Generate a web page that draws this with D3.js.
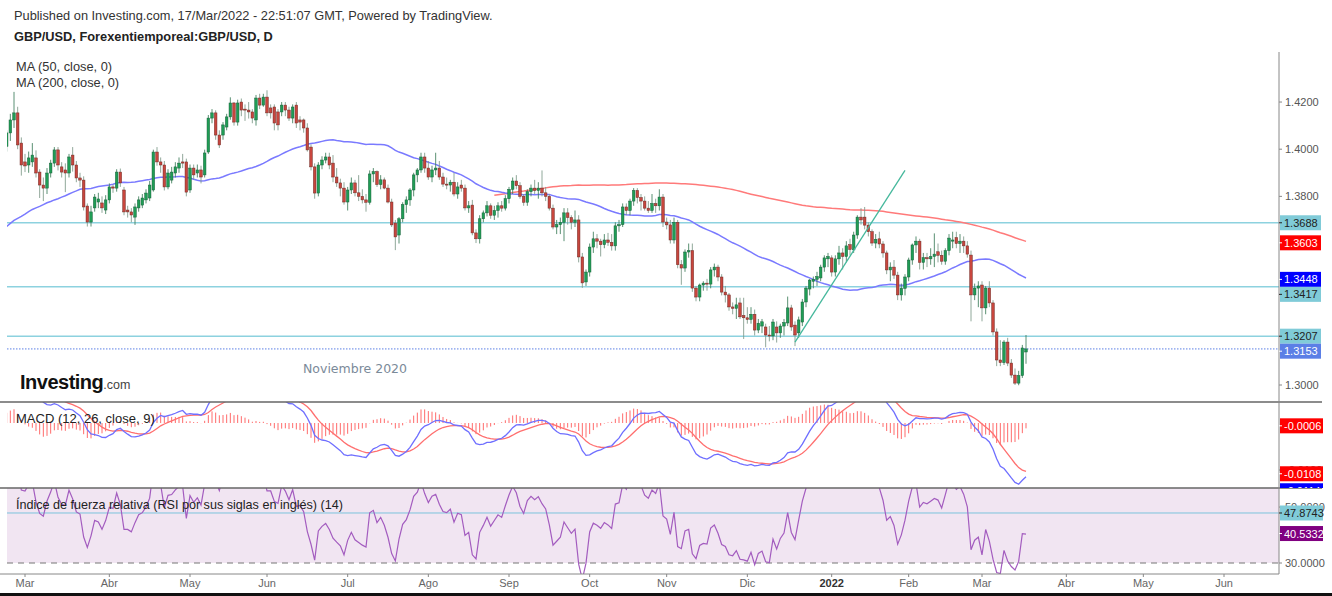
<!DOCTYPE html>
<html><head><meta charset="utf-8">
<script src="https://cdn.jsdelivr.net/npm/d3@7"></script>
<style>
body{margin:0;background:#fff}
svg{display:block}
text{font-family:Arial,"Liberation Sans",sans-serif}
</style></head>
<body><svg id="c" width="1332" height="596"></svg>
<script>
// ---------------- DATA (prices x 10 000) ----------------
const startDate = "2020-11-20"; // first daily bar (weekdays only)
// closes used only to warm up the indicators (20 Nov 2020 - 19 Feb 2021)
const warmupCloses = [
13282,
13317,13353,13363,13355,13318, 13345,13393,13363,13459,13437, 13381,13363,13339,13292,13224,
13318,13446,13526,13585,13523, 13453,13437,13500,13553,13553, 13451,13505,13668,13670,13670,
13570,13610,13605,13573,13565, 13515,13675,13660,13676,13590, 13590,13640,13662,13735,13685,
13674,13737,13697,13740,13703, 13675,13645,13664,13670,13735, 13765,13825,13827,13826,13845,
13900,13890,13872,13936,14012];
// visible candles 22 Feb 2021 - 17 Mar 2022
const opens = [
14012,14069,14124,14154,14026,
13946,13933,13946,13963,13903,13848,13835,13899,13941,13997,13925,13912,13899,13975,13933,13878,13869,13759,13691,13751,13776,13772,13742,
13785,13840,13835,13903,13827,13742,13734,13712,13751,13763,13785,13793,13827,13988,13946,13933,13840,13869,13899,13920,13946,13946,
13827,13920,13899,13912,13891,13988,14132,14154,14060,14060,14094,14137,14196,14115,14200,14170,14166,14158,14124,14217,14187,
14221,14175,14179,14158,14158,14187,14166,14132,14187,14124,14124,14090,14009,13925,13814,13933,13954,13967,13941,13882,13857,13835,
13776,13827,13857,13815,13800,13785,13775,13895,13905,13850,13870,13835,13776,13687,13636,13705,13765,13785,13827,13891,13912,13967,
13920,13882,13912,13920,13882,13852,13848,13860,13810,13848,13835,13751,13763,13645,13620,13705,13730,13760,13720,13740,13760,13750,
13790,13830,13865,13845,13800,13775,13820,13835,13825,13835,13815,13800,13750,13670,13680,13690,13730,13710,13690,13700,13543,13437,
13479,13585,13620,13610,13595,13615,13605,13590,13675,13680,13755,13740,13780,13825,13795,13780,13750,13740,13770,13760,13797,
13691,13679,13615,13690,13510,13496,13564,13570,13411,13373,13424,13432,13428,13488,13500,13458,13394,13382,13331,13325,13348,13295,
13285,13278,13300,13233,13250,13246,13212,13208,13246,13221,13250,13263,13327,13254,13221,13267,13352,13407,13440,13448,13454,13500,13535,
13539,13479,13535,13560,13545,13595,13573,13636,13712,13712,13678,13650,13602,13620,13598,13560,13488,13500,13466,13382,13410,
13458,13530,13594,13610,13520,13540,13535,13545,13565,13550,13525,13570,13610,13625,13600,13610,13590,13551,13382,13411,
13424,13327,13411,13348,13225,13106,13095,13182,13093,13042,13008,13040,13140];
const highs = [
14080,14150,14243,14180,14050,
13980,13990,14026,13995,13915,13880,13920,13955,14009,14009,13945,13940,13980,14009,13950,13900,13885,13770,13760,13810,13815,13800,13805,
13855,13850,13915,13918,13840,13760,13750,13770,13800,13810,13830,13865,13998,14009,13965,13950,13915,13925,13945,13965,13980,13960,
13935,13935,13935,13930,13998,14145,14170,14165,14080,14115,14150,14220,14200,14210,14215,14190,14200,14170,14230,14235,14235,
14250,14190,14190,14170,14200,14200,14180,14190,14200,14140,14130,14110,14020,13940,13945,13970,13985,13985,13975,13920,13875,13860,
13840,13880,13870,13890,13830,13810,13910,13920,13910,13890,13880,13850,13790,13700,13712,13775,13800,13835,13900,13920,13985,13985,
13950,13930,13985,13950,13900,13880,13870,13900,13860,13870,13850,13780,13785,13660,13720,13740,13780,13770,13760,13775,13780,13805,
13840,13880,13890,13860,13810,13830,13850,13870,13860,13910,13840,13810,13765,13700,13710,13750,13750,13720,13740,13720,13560,13490,
13600,13650,13640,13620,13640,13645,13640,13690,13700,13770,13770,13790,13835,13835,13810,13800,13780,13810,13790,13830,13810,
13710,13700,13710,13700,13530,13575,13600,13600,13420,13430,13440,13450,13500,13515,13510,13470,13420,13390,13350,13370,13370,13370,
13330,13330,13320,13280,13280,13260,13250,13280,13270,13260,13280,13375,13340,13270,13290,13365,13420,13450,13460,13480,13510,13550,13560,
13550,13550,13590,13580,13610,13620,13650,13720,13750,13755,13690,13660,13640,13650,13610,13570,13520,13530,13480,13430,13470,
13540,13600,13630,13620,13560,13560,13580,13643,13600,13570,13580,13640,13650,13650,13640,13630,13610,13570,13430,13440,
13440,13420,13440,13360,13240,13190,13190,13200,13110,13070,13060,13170,13212];
const lows = [
13990,14035,14090,14000,13888,
13903,13900,13925,13880,13793,13780,13810,13880,13925,13910,13880,13818,13880,13905,13860,13840,13740,13672,13672,13735,13750,13730,13725,
13770,13815,13820,13840,13720,13710,13690,13679,13735,13750,13770,13780,13820,13930,13900,13825,13830,13855,13880,13900,13920,13800,
13815,13870,13880,13855,13880,13980,14110,14040,14005,14040,14080,14125,14100,14100,14140,14120,14130,14110,14100,14170,14180,
14140,14130,14080,14080,14140,14140,14120,14110,14090,14080,14070,13990,13910,13790,13800,13915,13940,13915,13860,13840,13800,13765,
13740,13810,13800,13780,13770,13735,13765,13860,13840,13830,13830,13770,13670,13572,13600,13690,13730,13760,13800,13860,13900,13900,
13870,13860,13890,13870,13840,13830,13820,13800,13790,13820,13740,13730,13635,13602,13600,13690,13715,13705,13700,13710,13735,13740,
13770,13810,13830,13790,13760,13760,13800,13810,13790,13800,13780,13740,13660,13640,13640,13610,13680,13660,13670,13520,13412,13420,
13460,13560,13580,13545,13580,13590,13570,13570,13650,13670,13720,13720,13760,13770,13740,13740,13730,13730,13730,13740,13670,
13660,13600,13600,13495,13425,13480,13540,13395,13355,13355,13400,13400,13410,13460,13440,13380,13350,13315,13300,13280,13280,13195,
13260,13260,13210,13220,13220,13160,13185,13190,13180,13200,13210,13250,13230,13165,13200,13250,13330,13380,13410,13420,13440,13480,13500,
13460,13460,13510,13490,13520,13550,13560,13620,13680,13660,13630,13590,13580,13580,13540,13470,13440,13450,13360,13358,13380,
13440,13510,13560,13490,13490,13500,13510,13500,13520,13510,13510,13550,13580,13580,13560,13560,13540,13270,13360,13330,
13270,13300,13330,13210,13080,13080,13085,13080,13030,13000,12999,13030,13090];
const closes = [
14069,14124,14154,14018,13933,
13929,13963,13975,13899,13848,13835,13899,13941,13997,13933,13903,13899,13967,13933,13878,13869,13755,13691,13734,13797,13789,13751,13785,
13840,13835,13903,13857,13734,13734,13721,13755,13785,13793,13814,13848,13988,13946,13933,13840,13899,13903,13925,13941,13941,13818,
13920,13891,13912,13882,13984,14132,14154,14060,14018,14103,14137,14196,14115,14196,14166,14166,14158,14132,14217,14187,14221,
14154,14154,14111,14103,14187,14166,14132,14179,14111,14115,14090,13997,13925,13814,13933,13954,13967,13933,13882,13857,13835,13776,
13827,13857,13815,13800,13785,13775,13895,13905,13850,13870,13835,13776,13679,13628,13705,13765,13785,13827,13891,13912,13967,13920,
13882,13912,13920,13882,13852,13848,13860,13810,13840,13835,13751,13760,13645,13620,13705,13730,13760,13720,13740,13760,13750,13790,
13830,13865,13845,13800,13775,13820,13835,13825,13835,13815,13800,13750,13670,13680,13690,13730,13710,13690,13700,13543,13433,13479,
13585,13620,13610,13595,13615,13605,13590,13675,13680,13755,13740,13780,13825,13795,13780,13750,13740,13770,13760,13797,13691,
13679,13615,13690,13510,13496,13564,13570,13411,13373,13424,13432,13428,13488,13500,13458,13394,13382,13331,13325,13340,13289,13285,
13278,13300,13233,13262,13268,13212,13208,13267,13221,13250,13265,13327,13246,13212,13276,13352,13411,13445,13448,13460,13500,13539,13545,
13479,13535,13560,13545,13590,13575,13636,13712,13700,13678,13650,13602,13618,13598,13560,13488,13500,13466,13382,13410,13458,
13530,13594,13610,13520,13540,13535,13545,13555,13550,13525,13570,13623,13615,13600,13610,13590,13555,13382,13411,13420,
13327,13411,13348,13225,13106,13095,13182,13093,13042,13008,13040,13157,13153];

const monthNames = ["Ene","Feb","Mar","Abr","May","Jun","Jul","Ago","Sep","Oct","Nov","Dic"];
const priceTicks = [1.30, 1.32, 1.34, 1.36, 1.38, 1.40, 1.42];
const macdTicks = [-0.01];
const rsiTicks = [30, 50];
const hLevels = [1.3688, 1.3417, 1.3207];     // drawn horizontal lines
const lastPrice = 1.3153;
const ma50Label = 1.3448, ma200Label = 1.3603;
const macdLabels = {hist:-0.0006, signal:-0.0108, macd:-0.0114};
const rsiLevel = 47.8743, rsiLast = 40.5332;
const trendDates = ["2021-12-20","2022-01-31"], trendPrices = [1.3182, 1.3910];

// ---------------- SETUP ----------------
const svg = d3.select("#c");
const P = v => v / 10000;
const plotL = 7, plotR = 1279;
const mainTop = 52, mainBot = 402, macdBot = 488, rsiBot = 574;

const parse = d3.utcParse("%Y-%m-%d");
const nAll = warmupCloses.length + closes.length;
const dates = [];
for (let d = parse(startDate); dates.length < nAll + 80; d = d3.utcDay.offset(d, 1)) {
  const wd = d.getUTCDay(); if (wd !== 0 && wd !== 6) dates.push(d);
}
const idxOf = s => { const t = +parse(s); return dates.findIndex(d => +d === t); };
const x = d3.scaleLinear().domain([idxOf("2021-03-01"), idxOf("2022-06-01")]).range([25, 1224]);
const y = d3.scaleLinear().domain([1.30, 1.42]).range([385, 102.04]);
const yM = d3.scaleLinear().domain([0, -0.01]).range([423, 470]);
const yR = d3.scaleLinear().domain([30, 50]).range([563, 507.05]);

const allC = warmupCloses.concat(closes).map(P);
const w0 = warmupCloses.length;
const bars = closes.map((c, k) => ({i: w0 + k, o: P(opens[k]), h: P(highs[k]), l: P(lows[k]), c: P(c)}));

// indicators
function sma(a, n){ return a.map((v,i)=> i<n-1 ? null : d3.mean(a.slice(i-n+1,i+1))); }
function ema(a, n){ const out=a.map(()=>null); const k=2/(n+1); let first=a.findIndex(v=>v!=null); if(first<0) return out;
  let s=first+n-1; if(s>=a.length) return out; let e=d3.mean(a.slice(first,s+1)); out[s]=e;
  for(let i=s+1;i<a.length;i++){ e=a[i]*k+e*(1-k); out[i]=e; } return out; }
function rsi(a, n){ const out=a.map(()=>null); let au=0, ad=0;
  for(let i=1;i<a.length;i++){ const ch=a[i]-a[i-1], u=Math.max(ch,0), dd=Math.max(-ch,0);
    if(i<=n){ au+=u/n; ad+=dd/n; if(i===n) out[i]=100-100/(1+au/(ad||1e-9)); }
    else { au=(au*(n-1)+u)/n; ad=(ad*(n-1)+dd)/n; out[i]=100-100/(1+au/(ad||1e-9)); } }
  return out; }
const ma50 = sma(allC, 50), ma200 = sma(allC, 200);
const e12 = ema(allC, 12), e26 = ema(allC, 26);
const macd = allC.map((v,i)=> e12[i]!=null && e26[i]!=null ? e12[i]-e26[i] : null);
const sig = ema(macd, 9);
const hist = macd.map((v,i)=> v!=null && sig[i]!=null ? v-sig[i] : null);
const rsiV = rsi(allC, 14);

// clips
const defs = svg.append("defs");
[["cMain",mainTop,mainBot],["cMacd",mainBot,macdBot],["cRsi",macdBot,rsiBot]].forEach(([id,t,b])=>{
  defs.append("clipPath").attr("id",id).append("rect").attr("x",plotL).attr("y",t).attr("width",plotR-plotL).attr("height",b-t);
});
defs.append("clipPath").attr("id","cMacdAx").append("rect").attr("x",plotR).attr("y",mainBot).attr("width",60).attr("height",macdBot-mainBot);

// ---------------- HEADER ----------------
svg.append("text").attr("x",14).attr("y",20).attr("font-size",12.8).attr("fill","#333")
  .text("Published on Investing.com, 17/Mar/2022 - 22:51:07 GMT, Powered by TradingView.");
svg.append("text").attr("x",14).attr("y",41).attr("font-size",12.8).attr("font-weight","bold").attr("fill","#222")
  .text("GBP/USD, Forexentiemporeal:GBP/USD, D");

// ---------------- MAIN PANEL ----------------
const gM = svg.append("g").attr("clip-path","url(#cMain)");
const line = (yy, arr) => d3.line().defined((d,i)=>arr[i]!=null).x((d,i)=>x(i)).y((d,i)=>yy(arr[i]))(arr);

gM.selectAll("line.h").data(hLevels).join("line").attr("class","h")
  .attr("x1",plotL).attr("x2",plotR).attr("y1",d=>y(d)).attr("y2",d=>y(d))
  .attr("stroke","#8dd2df").attr("stroke-width",1.5);
gM.append("line").attr("x1",plotL).attr("x2",plotR).attr("y1",y(lastPrice)).attr("y2",y(lastPrice))
  .attr("stroke","#5b7fe6").attr("stroke-width",1).attr("stroke-dasharray","1.5,1.5");

gM.append("path").attr("d",line(y,ma200)).attr("fill","none").attr("stroke","#ff7a7a").attr("stroke-width",1.5);
gM.append("path").attr("d",line(y,ma50)).attr("fill","none").attr("stroke","#7a7aff").attr("stroke-width",1.5);

const cg = gM.selectAll("g.k").data(bars).join("g").attr("class","k");
cg.append("line").attr("x1",d=>x(d.i)).attr("x2",d=>x(d.i)).attr("y1",d=>y(d.h)).attr("y2",d=>y(d.l))
  .attr("stroke",d=>d.c>=d.o?"#3f7f5c":"#7f9a8a").attr("stroke-width",1).attr("opacity",0.85);
cg.append("rect").attr("x",d=>x(d.i)-1.3).attr("width",2.6)
  .attr("y",d=>y(Math.max(d.o,d.c))).attr("height",d=>Math.max(1,Math.abs(y(d.o)-y(d.c))))
  .attr("fill",d=>d.c>=d.o?"#1f9d55":"#c8463d").attr("stroke",d=>d.c>=d.o?"#17603a":"#6e2a25").attr("stroke-width",0.5);

gM.append("line").attr("x1",x(idxOf(trendDates[0]))).attr("y1",y(trendPrices[0]))
  .attr("x2",x(idxOf(trendDates[1]))).attr("y2",y(trendPrices[1])).attr("stroke","#45b89c").attr("stroke-width",1.3);

svg.append("text").attr("x",16).attr("y",71).attr("font-size",12.8).attr("fill","#333").text("MA (50, close, 0)");
svg.append("text").attr("x",16).attr("y",87).attr("font-size",12.8).attr("fill","#333").text("MA (200, close, 0)");

const logo = svg.append("text").attr("x",20).attr("y",389);
logo.append("tspan").attr("font-size",20).attr("font-weight","bold").attr("fill","#111").attr("letter-spacing",-0.5).text("Investing");
logo.append("tspan").attr("font-size",12.5).attr("fill","#444").text(".com");
svg.append("text").attr("x",303).attr("y",373).attr("font-size",12.5).attr("fill","#7b8a99")
  .style("font-family","Verdana,'DejaVu Sans',sans-serif").text("Noviembre 2020");

// ---------------- MACD PANEL ----------------
const gD = svg.append("g").attr("clip-path","url(#cMacd)");
gD.selectAll("line.hb").data(hist.map((v,i)=>({v,i})).filter(d=>d.v!=null)).join("line").attr("class","hb")
  .attr("x1",d=>x(d.i)).attr("x2",d=>x(d.i)).attr("y1",yM(0)).attr("y2",d=>yM(d.v))
  .attr("stroke","#ff6b6b").attr("stroke-width",1);
gD.append("path").attr("d",line(yM,sig)).attr("fill","none").attr("stroke","#ff6f6f").attr("stroke-width",1.3);
gD.append("path").attr("d",line(yM,macd)).attr("fill","none").attr("stroke","#6f6fff").attr("stroke-width",1.3);
svg.append("text").attr("x",16).attr("y",423).attr("font-size",13).attr("fill","#222").text("MACD (12, 26, close, 9)");

// ---------------- RSI PANEL ----------------
const gR = svg.append("g").attr("clip-path","url(#cRsi)");
gR.append("rect").attr("x",plotL).attr("width",plotR-plotL).attr("y",yR(70)).attr("height",yR(30)-yR(70)).attr("fill","#f1e5f2");
gR.append("line").attr("x1",plotL).attr("x2",plotR).attr("y1",yR(30)).attr("y2",yR(30))
  .attr("stroke","#777").attr("stroke-dasharray","6,5").attr("stroke-width",1);
gR.append("line").attr("x1",plotL).attr("x2",plotR).attr("y1",yR(rsiLevel)).attr("y2",yR(rsiLevel))
  .attr("stroke","#7cc3dc").attr("stroke-width",1);
gR.append("path").attr("d",line(yR,rsiV)).attr("fill","none").attr("stroke","#a35cbf").attr("stroke-width",1.2);
svg.append("text").attr("x",16).attr("y",509).attr("font-size",12.6).attr("fill","#222")
  .text("Índice de fuerza relativa (RSI por sus siglas en inglés) (14)");

// ---------------- FRAMES ----------------
svg.append("line").attr("x1",0).attr("x2",1322).attr("y1",mainBot).attr("y2",mainBot).attr("stroke","#666").attr("stroke-width",1.5);
svg.append("line").attr("x1",0).attr("x2",1322).attr("y1",macdBot).attr("y2",macdBot).attr("stroke","#666").attr("stroke-width",1.5);
svg.append("line").attr("x1",0).attr("x2",plotR).attr("y1",rsiBot).attr("y2",rsiBot).attr("stroke","#888").attr("stroke-width",1);
svg.append("line").attr("x1",plotR).attr("x2",plotR).attr("y1",mainTop).attr("y2",rsiBot).attr("stroke","#888").attr("stroke-width",1);
svg.append("rect").attr("x",0).attr("y",593).attr("width",1332).attr("height",3).attr("fill","#111");

// ---------------- TIME AXIS ----------------
const mTicks = [];
for (let i = 1; i < dates.length; i++) {
  if (dates[i].getUTCMonth() !== dates[i-1].getUTCMonth()) {
    const px = x(i); if (px > plotL + 5 && px < plotR - 5) mTicks.push({i, m: dates[i].getUTCMonth(), yr: dates[i].getUTCFullYear()});
  }
}
const ta = svg.append("g");
ta.selectAll("line").data(mTicks).join("line").attr("x1",d=>x(d.i)).attr("x2",d=>x(d.i)).attr("y1",rsiBot).attr("y2",rsiBot+3).attr("stroke","#888");
ta.selectAll("text").data(mTicks).join("text").attr("x",d=>x(d.i)).attr("y",587).attr("text-anchor","middle")
  .attr("font-size",11).attr("fill",d=>d.m===0?"#333":"#666").attr("font-weight",d=>d.m===0?"bold":"normal")
  .text(d=>d.m===0 ? String(d.yr) : monthNames[d.m]);

// ---------------- RIGHT AXIS ----------------
const boxVals = [hLevels[0], ma200Label, ma50Label, hLevels[1], hLevels[2], lastPrice];
function ticksOn(scale, vals, fmt, top, bot, avoid){
  const g = svg.append("g");
  vals.forEach(v=>{ const yy = scale(v); if (yy<top||yy>bot) return;
    if (avoid && avoid.some(b => Math.abs(scale(b) - yy) < 12)) return;   // hidden behind value labels
    g.append("line").attr("x1",plotR).attr("x2",plotR+3).attr("y1",yy).attr("y2",yy).attr("stroke","#888");
    g.append("text").attr("x",plotR+6).attr("y",yy+4).attr("font-size",11).attr("fill","#555").text(fmt(v)); });
}
ticksOn(y, priceTicks, v=>v.toFixed(4), mainTop, mainBot, boxVals.concat([1.3417 + 0.0064]));
ticksOn(yM, macdTicks, v=>v.toFixed(4), mainBot, macdBot);
ticksOn(yR, rsiTicks, v=>v.toFixed(4), macdBot, rsiBot);

function boxes(list, scale, clip, gap){
  const items = list.map(d=>({...d, yy: scale(d.v)})).sort((a,b)=>a.yy-b.yy);
  for (let k=1;k<items.length;k++) if (items[k].yy < items[k-1].yy + gap) items[k].yy = items[k-1].yy + gap;
  const g = svg.append("g"); if (clip) g.attr("clip-path",`url(#${clip})`);
  items.forEach(d=>{
    g.append("rect").attr("x",plotR+1).attr("y",d.yy-7.5).attr("width",d.w||41).attr("height",15).attr("fill",d.bg);
    g.append("line").attr("x1",plotR).attr("x2",plotR+3).attr("y1",d.yy).attr("y2",d.yy).attr("stroke",d.fg);
    g.append("text").attr("x",plotR+5).attr("y",d.yy+4).attr("font-size",11).attr("fill",d.fg).text(d.t);
  });
}
boxes([
  {v:hLevels[0], t:hLevels[0].toFixed(4), bg:"#80cbd8", fg:"#222"},
  {v:ma200Label, t:ma200Label.toFixed(4), bg:"#ff0000", fg:"#fff"},
  {v:ma50Label, t:ma50Label.toFixed(4), bg:"#0000ff", fg:"#fff"},
  {v:hLevels[1], t:hLevels[1].toFixed(4), bg:"#80cbd8", fg:"#222"},
  {v:hLevels[2], t:hLevels[2].toFixed(4), bg:"#80cbd8", fg:"#222"},
  {v:lastPrice, t:lastPrice.toFixed(4), bg:"#5b7fe6", fg:"#fff"}
], y, null, 15);
boxes([
  {v:macdLabels.hist, t:macdLabels.hist.toFixed(4), bg:"#ff0000", fg:"#fff", w:43},
  {v:macdLabels.signal, t:macdLabels.signal.toFixed(4), bg:"#ff0000", fg:"#fff", w:43},
  {v:macdLabels.macd, t:macdLabels.macd.toFixed(4), bg:"#0000ff", fg:"#fff", w:43}
], yM, "cMacdAx", 17);
boxes([
  {v:rsiLevel, t:rsiLevel.toFixed(4), bg:"#80cbd8", fg:"#222", w:43},
  {v:rsiLast, t:rsiLast.toFixed(4), bg:"#800080", fg:"#fff", w:43}
], yR, null, 15);
</script></body></html>
